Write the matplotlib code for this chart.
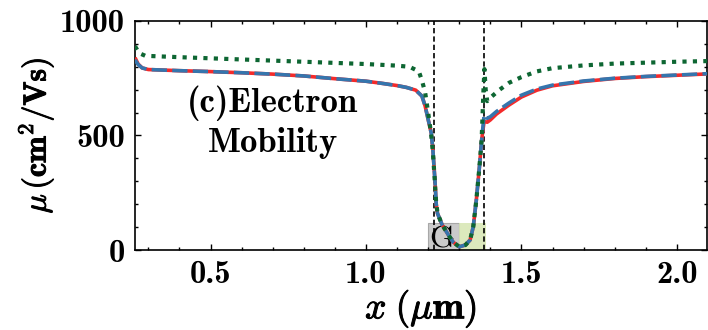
import matplotlib
matplotlib.use("Agg")
import matplotlib.pyplot as plt
import matplotlib.patheffects as pe
from matplotlib.ticker import MultipleLocator, FuncFormatter

plt.rcParams["mathtext.fontset"] = "cm"
plt.rcParams["axes.unicode_minus"] = False
plt.rcParams["lines.scale_dashes"] = False

# Electron mobility along the channel (x in um, mu in cm^2/Vs)
x_blue = [0.257, 0.267, 0.280, 0.30, 0.40, 0.50, 0.60, 0.70, 0.80, 0.90, 1.00, 1.05,
          1.10, 1.13, 1.16, 1.18, 1.19, 1.20, 1.21, 1.215, 1.218, 1.222, 1.226, 1.23,
          1.245, 1.265, 1.28, 1.30, 1.32, 1.335, 1.345, 1.355, 1.365, 1.372, 1.38,
          1.39, 1.40, 1.42, 1.46, 1.50, 1.55, 1.60, 1.70, 1.80, 1.90, 2.00, 2.10]
mu_blue = [830, 810, 795, 788, 783, 779, 774, 768, 760, 748, 737, 728,
           718, 710, 698, 672, 630, 570, 510, 440, 380, 300, 200, 160,
           110, 66, 35, 14, 22, 44, 101, 219, 364, 480, 590,
           575, 582, 605, 642, 676, 703, 720, 738, 750, 758, 764, 770]

x_red = [0.257, 0.267, 0.280, 0.30, 0.40, 0.50, 0.60, 0.70, 0.80, 0.90, 1.00, 1.05,
         1.10, 1.13, 1.16, 1.18, 1.19, 1.20, 1.21, 1.215, 1.218, 1.222, 1.226, 1.23,
         1.245, 1.265, 1.28, 1.30, 1.32, 1.335, 1.345, 1.355, 1.365, 1.372, 1.38,
         1.39, 1.40, 1.42, 1.46, 1.50, 1.55, 1.60, 1.70, 1.80, 1.90, 2.00, 2.10]
mu_red = [840, 812, 795, 788, 783, 779, 774, 768, 760, 748, 737, 728,
          718, 710, 698, 672, 630, 570, 510, 440, 380, 300, 200, 160,
          110, 66, 35, 14, 22, 44, 101, 219, 364, 480, 562,
          558, 568, 594, 633, 668, 698, 717, 736, 749, 757, 763, 769]

x_green = [0.257, 0.27, 0.29, 0.40, 0.60, 0.80, 1.00, 1.10, 1.14, 1.17, 1.18, 1.19,
           1.20, 1.21, 1.215, 1.22, 1.225, 1.23, 1.245, 1.265, 1.28, 1.30, 1.32,
           1.335, 1.345, 1.355, 1.365, 1.372, 1.378, 1.381, 1.385, 1.39, 1.40,
           1.43, 1.46, 1.50, 1.55, 1.60, 1.70, 1.80, 1.90, 2.00, 2.10]
mu_green = [890, 860, 848, 842, 832, 822, 812, 805, 800, 780, 740, 690,
            600, 500, 430, 330, 220, 160, 110, 66, 35, 14, 22,
            44, 101, 219, 364, 480, 700, 790, 700, 650, 665,
            700, 730, 755, 780, 794, 806, 814, 818, 822, 825]

# Gate region and junction markers
gate_span = [1.20, 1.30]
drain_span = [1.30, 1.386]
region_top = 120
junctions = [1.219, 1.379]

fig = plt.figure(figsize=(7.08, 3.30), dpi=100)
ax = fig.add_axes([0.1907, 0.2424, 0.8079, 0.6940])

ax.fill_between(gate_span, 0, region_top, color="#bdbdbd", alpha=0.8,
                edgecolor="#9a9a9a", lw=0.8, zorder=1)
ax.fill_between(drain_span, 0, region_top, color="#d6e6b2", alpha=0.85,
                lw=0, zorder=1)
ax.text(1.244, 44, "G", family="cmr10", fontsize=23,
        ha="center", va="center", zorder=2)

for xj in junctions:
    ax.axvline(xj, color="black", lw=1.2, dashes=(3.8, 2.2), zorder=2)

ax.plot(x_red, mu_red, color="#f42a2a", lw=2.6, solid_capstyle="butt", zorder=3)
ax.plot(x_blue, mu_blue, color="#3575ad", lw=2.6, dashes=(11, 3.8), zorder=4)
ax.plot(x_green, mu_green, color="#0d6632", lw=3.0, dashes=(3.0, 4.5),
        dash_capstyle="butt", zorder=5)

ax.set_xlim(0.257, 2.097)
ax.set_ylim(0, 1000)
ax.xaxis.set_major_locator(MultipleLocator(0.5))
ax.xaxis.set_minor_locator(MultipleLocator(0.1))
ax.yaxis.set_major_locator(MultipleLocator(500))
ax.yaxis.set_minor_locator(MultipleLocator(100))
ax.xaxis.set_major_formatter(FuncFormatter(lambda v, p: f"{v:.1f}"))
ax.yaxis.set_major_formatter(FuncFormatter(lambda v, p: f"{v:.0f}"))
ax.tick_params(which="both", direction="in", top=True, right=True, width=1.0)
ax.tick_params(which="major", length=4, pad=7)
ax.tick_params(which="minor", length=2.5)
for lab in ax.get_xticklabels() + ax.get_yticklabels():
    lab.set_family("cmb10")
    lab.set_fontsize(23.5)
for sp in ax.spines.values():
    sp.set_linewidth(1.2)

bold = [pe.withStroke(linewidth=0.7, foreground="black")]
ax.set_xlabel(r"$x\;\mathbf{(}\mu\mathbf{m)}$", fontsize=27, labelpad=-1,
              path_effects=bold)
ax.set_ylabel(r"$\mu\,\mathbf{(cm^{2}/Vs)}$", fontsize=23, labelpad=3,
              path_effects=bold)

ax.text(0.70, 603, "(c)Electron", family="cmb10", fontsize=25,
        ha="center", va="baseline", zorder=6)
ax.text(0.70, 428, "Mobility", family="cmb10", fontsize=25,
        ha="center", va="baseline", zorder=6)

fig.savefig("out.png", dpi=100)
